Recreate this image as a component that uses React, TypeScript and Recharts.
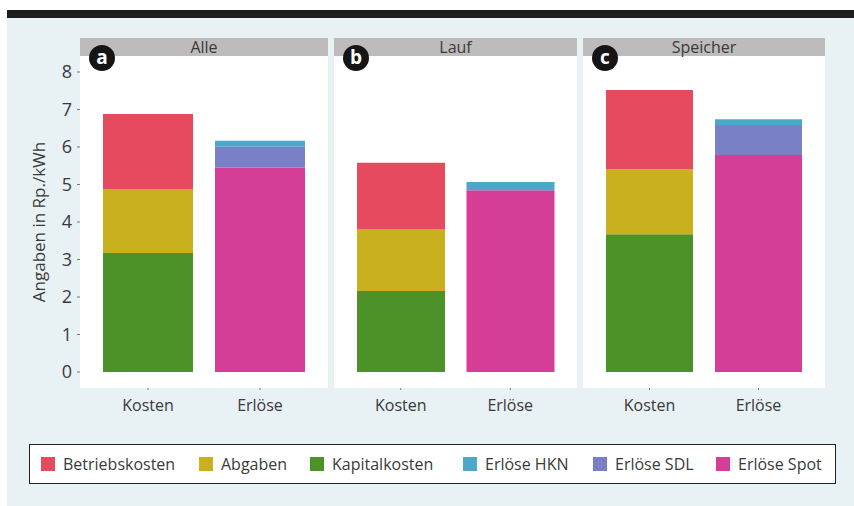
import React from 'react';
import { BarChart, Bar, XAxis, YAxis, CartesianGrid } from 'recharts';

const panelTitles = ['Alle', 'Lauf', 'Speicher'];
const panelBadges = ['a', 'b', 'c'];
const categories = ['Kosten', 'Erlöse'];
const yTicks = [0, 1, 2, 3, 4, 5, 6, 7, 8];

// values per panel (Alle, Lauf, Speicher)
const kapitalkosten = [3.17, 2.16, 3.67];
const abgaben = [1.71, 1.64, 1.74];
const betriebskosten = [2.0, 1.78, 2.11];
const erloeseSpot = [5.45, 4.85, 5.79];
const erloeseSDL = [0.56, 0.0, 0.8];
const erloeseHKN = [0.16, 0.22, 0.15];

const series = [
  { key: 'Kapitalkosten', color: '#4d9229' },
  { key: 'Abgaben', color: '#c9b01f' },
  { key: 'Betriebskosten', color: '#e54a5e' },
  { key: 'Erlöse Spot', color: '#d43e96' },
  { key: 'Erlöse SDL', color: '#7a80c6' },
  { key: 'Erlöse HKN', color: '#4ca7c8' },
];
const legendOrder = ['Betriebskosten', 'Abgaben', 'Kapitalkosten', 'Erlöse HKN', 'Erlöse SDL', 'Erlöse Spot'];

const buildData = (i: number) => [
  {
    name: categories[0],
    Kapitalkosten: kapitalkosten[i],
    Abgaben: abgaben[i],
    Betriebskosten: betriebskosten[i],
  },
  {
    name: categories[1],
    'Erlöse Spot': erloeseSpot[i],
    'Erlöse SDL': erloeseSDL[i],
    'Erlöse HKN': erloeseHKN[i],
  },
];

const FONT = "'Open Sans', sans-serif";
const TXT = '#3a3a3a';

// plot boxes (left, right) for each panel
const plotX = [
  [80, 328],
  [334, 577],
  [583, 825],
];
const PLOT_TOP = 56;
const PLOT_BOTTOM = 388;
const CH = 430;

function Panel({ i }: { i: number }) {
  const [l, r] = plotX[i];
  const showY = i === 0;
  const yw = 80;
  const chartLeft = showY ? l - yw : l - 2;
  const mLeft = showY ? 0 : 2;
  const chartW = r - chartLeft + 2;
  return (
    <div style={{ position: 'absolute', left: chartLeft, top: 0 }}>
      <BarChart
        width={chartW}
        height={CH}
        data={buildData(i)}
        margin={{ top: PLOT_TOP, right: 2, bottom: CH - PLOT_BOTTOM - 30, left: mLeft }}
        barCategoryGap={11}
      >
        <CartesianGrid fill="#ffffff" stroke="none" horizontal={false} vertical={false} />
        <XAxis
          dataKey="name"
          height={30}
          padding={{ left: 12, right: 12 }}
          axisLine={false}
          tickSize={2}
          tickMargin={10}
          tickLine={{ stroke: '#777' }}
          tick={{ fill: TXT, fontSize: 16, fontFamily: FONT }}
        />
        <YAxis
          hide={!showY}
          width={yw}
          domain={[-0.427, 8.427]}
          allowDataOverflow
          ticks={yTicks}
          axisLine={false}
          tickSize={3}
          tickMargin={5}
          tickLine={{ stroke: '#777' }}
          tick={{ fill: TXT, fontSize: 18, fontFamily: FONT }}
          label={{
            value: 'Angaben in Rp./kWh',
            angle: -90,
            position: 'center',
            dx: -1,
            style: { fill: TXT, fontSize: 17, fontFamily: FONT, textAnchor: 'middle' },
          }}
        />
        {series.map((s) => (
          <Bar key={s.key} dataKey={s.key} stackId="s" fill={s.color} isAnimationActive={false} />
        ))}
      </BarChart>
      <div
        style={{
          position: 'absolute',
          left: l - chartLeft,
          top: 38,
          width: r - l,
          height: 18,
          background: '#bdbbbc',
          color: TXT,
          fontFamily: FONT,
          fontSize: 16,
          lineHeight: '18px',
          textAlign: 'center',
        }}
      >
        {panelTitles[i]}
      </div>
      <div
        style={{
          position: 'absolute',
          left: l - chartLeft + 9,
          top: 45,
          width: 26,
          height: 26,
          borderRadius: 13,
          background: '#151515',
          color: '#fff',
          fontFamily: FONT,
          fontWeight: 700,
          fontSize: 19,
          lineHeight: '25px',
          textAlign: 'center',
        }}
      >
        {panelBadges[i]}
      </div>
    </div>
  );
}

export default function App() {
  const colorOf = (k: string) => series.find((s) => s.key === k)!.color;
  const legendX = [41, 199, 310, 463, 593, 716];
  return (
    <div style={{ position: 'absolute', left: 0, top: 0, width: 854, height: 506, background: '#ffffff', overflow: 'hidden' }}>
      <div style={{ position: 'absolute', left: 7, top: 18, width: 847, height: 488, background: '#e8f1f4' }} />
      <div style={{ position: 'absolute', left: 7, top: 10, width: 847, height: 8, background: '#1c1c1c' }} />
      {[0, 1, 2].map((i) => (
        <Panel key={i} i={i} />
      ))}
      <div
        style={{
          position: 'absolute',
          left: 29,
          top: 444,
          width: 805,
          height: 38,
          border: '1.5px solid #222',
          background: '#fff',
          fontFamily: FONT,
          fontSize: 16,
          color: TXT,
        }}
      >
        {legendOrder.map((k, j) => (
          <div key={k} style={{ position: 'absolute', left: legendX[j] - 30, top: 0, height: 38, display: 'flex', alignItems: 'center' }}>
            <span style={{ display: 'inline-block', width: 14, height: 14, background: colorOf(k), marginRight: 8 }} />
            <span>{k}</span>
          </div>
        ))}
      </div>
    </div>
  );
}
